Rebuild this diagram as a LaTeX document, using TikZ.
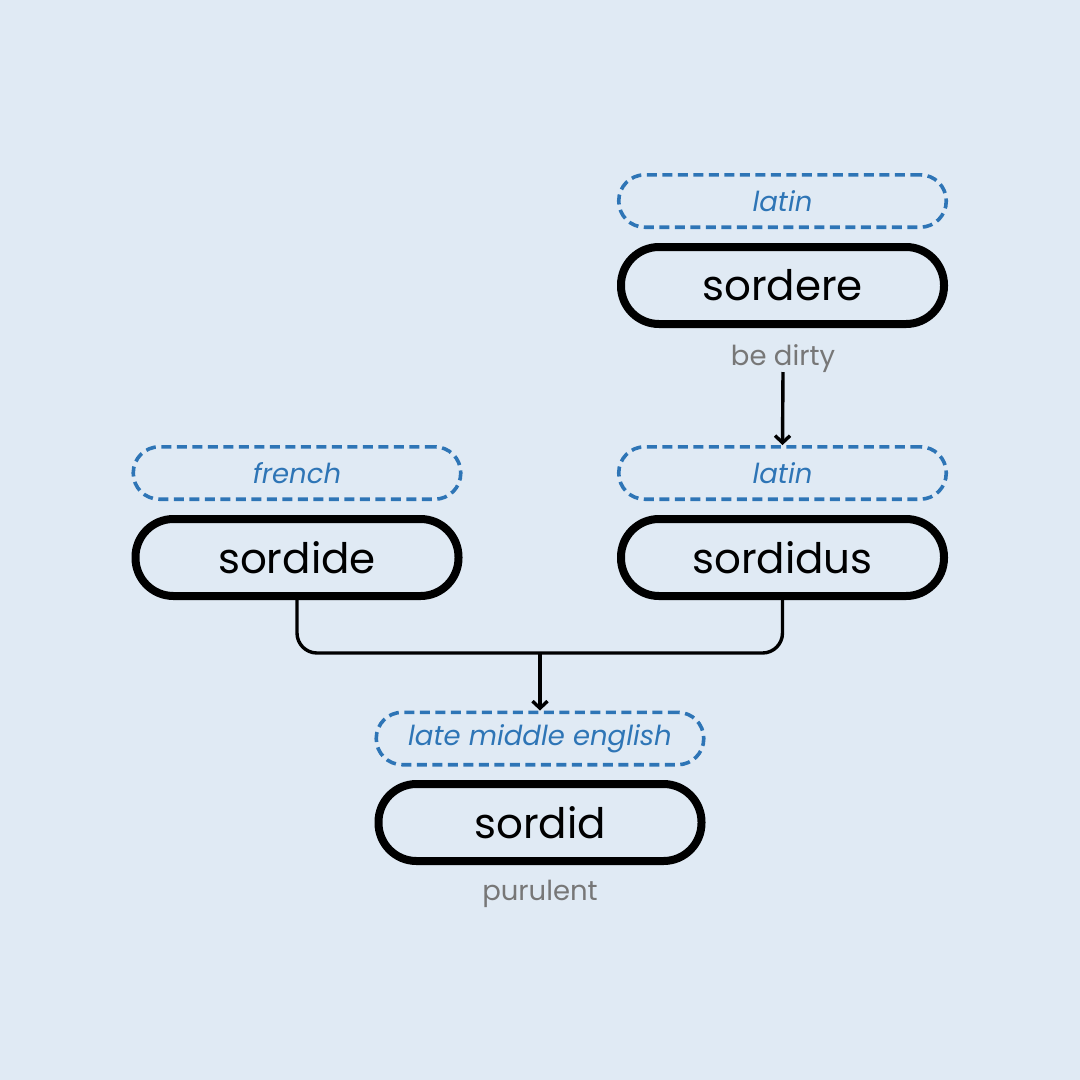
\documentclass[tikz,border=0pt]{standalone}
\usepackage{fontspec}
\setmainfont{Poppins}
\usetikzlibrary{arrows.meta}
\definecolor{bg}{HTML}{E0EAF4}
\definecolor{langblue}{HTML}{2E75B6}
\definecolor{glossgray}{HTML}{777777}
\tikzset{
  x=1pt, y=-1pt,
  wordbox/.style={draw=black, line width=8pt, rounded corners=38pt, minimum width=323pt, minimum height=77pt, inner sep=0pt, font=\fontsize{42}{46}\selectfont},
  langbox/.style={draw=langblue, line width=3.6pt, dash pattern=on 10pt off 5.5pt, rounded corners=26pt, minimum width=327.5pt, minimum height=52.4pt, inner sep=0pt, text=langblue, font=\fontsize{27.5}{30}\selectfont\itshape},
  gloss/.style={text=glossgray, inner sep=0pt, font=\fontsize{27.5}{30}\selectfont},
  link/.style={draw=black, line width=3.4pt, rounded corners=20pt},
  arr/.style={draw=black, line width=3.4pt, -{Straight Barb[length=7pt,width=15pt,line width=3.4pt]}},
}
\begin{document}
\begin{tikzpicture}
\fill[bg] (0,0) rectangle (1080,1080);
\useasboundingbox (0,0) rectangle (1080,1080);

\node[langbox] (l1) at (782.5,201) {latin};
\node[wordbox] (sordere) at (782.5,285.5) {sordere};
\node[gloss] (g1) at (783,359) {be dirty};

\node[langbox] (l2) at (782.5,473) {latin};
\node[wordbox] (sordidus) at (782.5,557.5) {sordidus};

\node[langbox] (l3) at (297,473) {french};
\node[wordbox] (sordide) at (297,557.5) {sordide};

\node[langbox] (l4) at (540,738.5) {late middle english};
\node[wordbox] (sordid) at (540,822.5) {sordid};
\node[gloss] (g2) at (540,894) {purulent};

\coordinate (a1) at (783,372);
\coordinate (j) at (540,653);
\draw[arr] (a1) -- (l2.north);
\draw[link] (sordide.south) -- (sordide.south |- j) -- (sordidus.south |- j) -- (sordidus.south);
\draw[arr] (j) -- (l4.north);
\end{tikzpicture}
\end{document}
